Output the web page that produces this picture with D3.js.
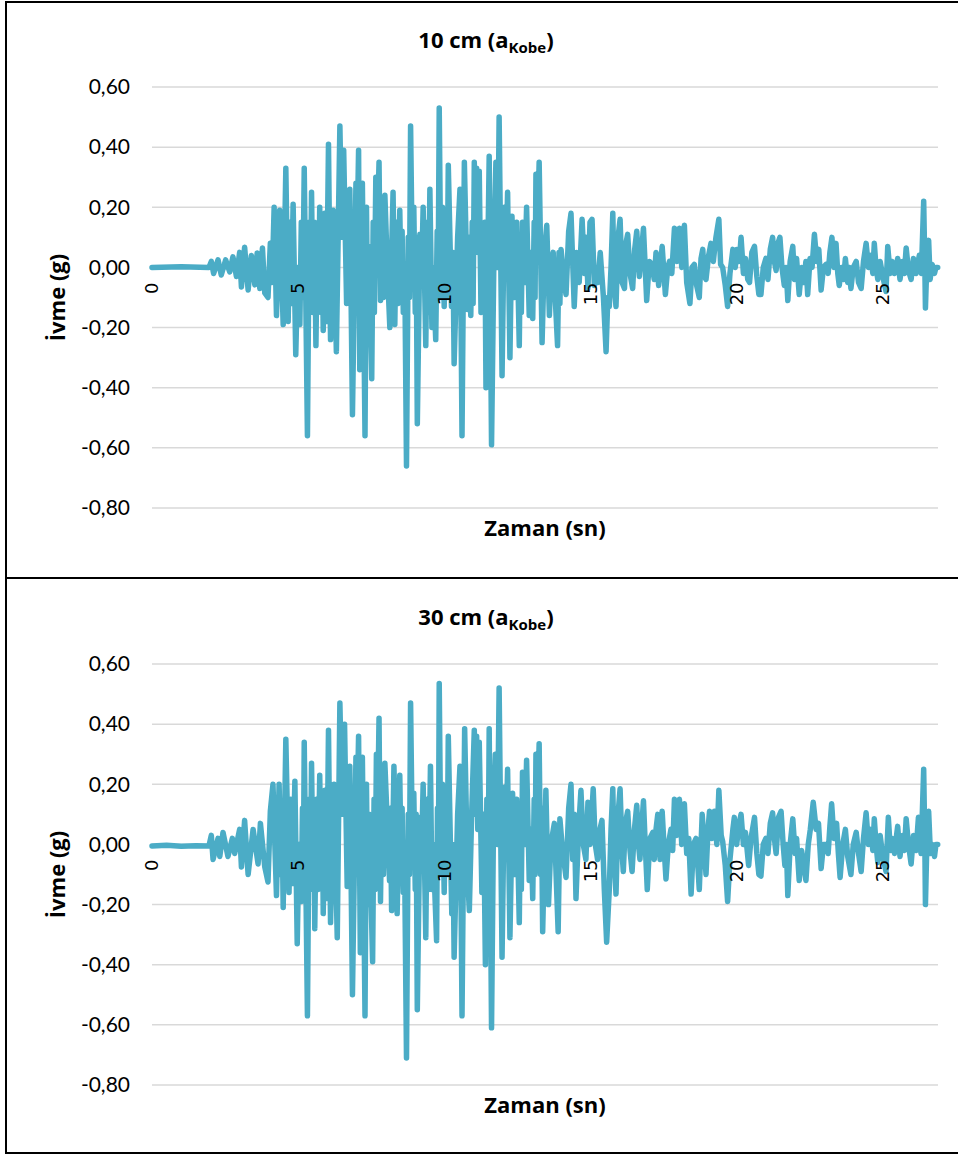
<!DOCTYPE html>
<html>
<head>
<meta charset="utf-8">
<script src="https://cdnjs.cloudflare.com/ajax/libs/d3/7.8.5/d3.min.js"></script>
<style>
    body { margin: 0; background: #fff; }
</style>
</head>
<body>
<div id="chart-area"></div>
<script>

// values (time in s, acceleration in g)
// rows of time and acc arrays line up one to one

var time10 = [
    0, 1, 1.95, 2.03, 2.11, 2.26, 2.37, 2.52, 2.66, 2.77,
    2.89, 3, 3.06, 3.17, 3.29, 3.4, 3.52, 3.6, 3.69, 3.78,
    3.86, 3.97, 4.05, 4.11, 4.18, 4.26, 4.37, 4.49, 4.58, 4.66,
    4.72, 4.77, 4.83, 4.92, 4.99, 5.06, 5.11, 5.16, 5.21, 5.32,
    5.38, 5.42, 5.46, 5.51, 5.56, 5.61, 5.66, 5.7, 5.74, 5.78,
    5.82, 5.86, 5.91, 5.97, 6.04, 6.11, 6.2, 6.31, 6.43, 6.5,
    6.56, 6.66, 6.77, 6.86, 6.98, 7.02, 7.07, 7.11, 7.2, 7.29,
    7.34, 7.38, 7.43, 7.52, 7.57, 7.61, 7.66, 7.72, 7.77, 7.82,
    7.87, 7.92, 7.97, 8.05, 8.14, 8.25, 8.31, 8.36, 8.42, 8.48,
    8.53, 8.56, 8.6, 8.65, 8.71, 8.77, 8.81, 8.85, 8.91, 8.96,
    9.01, 9.04, 9.08, 9.17, 9.22, 9.28, 9.37, 9.42, 9.46, 9.51,
    9.58, 9.62, 9.71, 9.76, 9.79, 9.83, 9.89, 9.94, 10, 10.05,
    10.1, 10.14, 10.25, 10.3, 10.34, 10.46, 10.54, 10.61, 10.69, 10.8,
    10.86, 10.91, 10.96, 10.99, 11.03, 11.07, 11.11, 11.15, 11.2, 11.26,
    11.31, 11.36, 11.39, 11.43, 11.54, 11.62, 11.71, 11.77, 11.83, 11.88,
    11.98, 12.06, 12.11, 12.17, 12.25, 12.32, 12.4, 12.48, 12.57, 12.61,
    12.64, 12.68, 12.75, 12.82, 12.91, 12.97, 13.03, 13.08, 13.11, 13.14,
    13.2, 13.25, 13.35, 13.43, 13.51, 13.6, 13.67, 13.73, 13.8, 13.88,
    13.93, 13.96, 14, 14.08, 14.17, 14.26, 14.34, 14.45, 14.53, 14.62,
    14.72, 14.8, 14.85, 14.92, 14.99, 15.06, 15.14, 15.2, 15.26, 15.34,
    15.45, 15.54, 15.6, 15.65, 15.71, 15.77, 15.82, 15.88, 15.95, 16.02,
    16.09, 16.17, 16.22, 16.28, 16.36, 16.45, 16.52, 16.59, 16.68, 16.75,
    16.82, 16.93, 17.02, 17.11, 17.19, 17.25, 17.34, 17.46, 17.57, 17.65,
    17.71, 17.79, 17.88, 17.96, 18.05, 18.13, 18.22, 18.3, 18.41, 18.48,
    18.56, 18.64, 18.73, 18.79, 18.85, 18.9, 18.96, 19.05, 19.13, 19.21,
    19.3, 19.4, 19.46, 19.53, 19.62, 19.7, 19.78, 19.88, 19.96, 20.02,
    20.1, 20.16, 20.24, 20.31, 20.39, 20.45, 20.53, 20.62, 20.7, 20.77,
    20.84, 20.92, 21.01, 21.08, 21.16, 21.24, 21.3, 21.36, 21.42, 21.49,
    21.56, 21.64, 21.7, 21.76, 21.84, 21.93, 21.99, 22.06, 22.15, 22.23,
    22.3, 22.38, 22.44, 22.52, 22.59, 22.67, 22.75, 22.82, 22.9, 22.98,
    23.07, 23.14, 23.2, 23.27, 23.34, 23.41, 23.47, 23.52, 23.6, 23.67,
    23.73, 23.81, 23.87, 23.92, 24, 24.1, 24.18, 24.27, 24.35, 24.44,
    24.52, 24.59, 24.67, 24.72, 24.78, 24.84, 24.92, 25.01, 25.12, 25.18,
    25.26, 25.33, 25.41, 25.47, 25.52, 25.6, 25.69, 25.75, 25.81, 25.89,
    25.98, 26.06, 26.15, 26.26, 26.33, 26.41, 26.45, 26.47, 26.53, 26.58,
    26.63, 26.7, 26.78, 26.83, 26.89
];
var acc10 = [
    0, 0.002, 0, 0.02, -0.02, 0.025, -0.025, 0.025, -0.015, 0.035,
    -0.03, 0.05, -0.065, 0.067, -0.075, 0.04, -0.058, 0.048, -0.07, 0.065,
    -0.085, -0.1, 0.08, -0.05, 0.2, -0.16, 0.19, -0.19, 0.33, -0.18,
    0.15, -0.12, 0.21, -0.29, 0, -0.19, 0.15, -0.1, 0.33, -0.56,
    0.15, -0.15, 0.25, -0.15, 0.15, -0.26, 0.12, -0.12, 0.2, -0.15,
    0.15, -0.21, 0.18, -0.18, 0.41, -0.24, 0.19, -0.28, 0.47, 0.1,
    0.39, -0.12, 0.26, -0.49, 0.28, 0.1, 0.39, -0.34, 0.28, -0.56,
    0.2, -0.2, 0.07, -0.37, 0.15, -0.15, 0.3, 0.15, 0.35, -0.11,
    0.18, -0.1, 0.24, 0.01, -0.2, 0.25, -0.19, 0.15, -0.12, 0.19,
    -0.1, 0.12, -0.15, 0, -0.66, 0.1, -0.1, 0.47, 0, 0.2,
    -0.15, 0.1, -0.52, 0.11, -0.05, 0.2, -0.26, 0.15, -0.15, 0.26,
    -0.2, 0, -0.24, 0.12, -0.1, 0.53, -0.1, 0.2, -0.13, 0.15,
    -0.1, 0.34, -0.13, 0.05, -0.32, 0.1, 0.26, -0.56, 0.35, -0.14,
    0.1, -0.16, 0.15, -0.12, 0.35, 0.1, 0.33, 0.05, 0.32, -0.15,
    0.13, -0.1, 0.15, -0.4, 0.37, -0.59, 0.1, 0.35, 0, 0.5,
    -0.36, 0.2, 0, 0.25, -0.3, 0.17, -0.1, 0.15, -0.26, 0.1,
    -0.15, 0.15, -0.05, 0.2, -0.16, 0.05, -0.17, 0.15, -0.1, 0.31,
    0.15, 0.35, -0.25, 0.05, 0.14, -0.16, 0.02, 0.05, -0.1, -0.26,
    0.05, -0.12, 0.06, -0.03, -0.09, 0.12, 0.18, -0.13, 0.05, -0.05,
    0.16, -0.02, 0.1, -0.07, 0.15, 0.16, -0.06, 0, -0.05, 0.05,
    -0.1, -0.28, -0.1, -0.13, 0, 0.18, -0.06, -0.13, 0.1, 0.16,
    -0.05, -0.07, 0.08, 0.11, -0.02, -0.07, 0.06, 0.12, -0.03, 0.05,
    0.13, -0.11, 0.02, 0.01, -0.04, 0.05, -0.06, 0.07, -0.09, 0,
    0.02, -0.02, 0.13, 0.02, 0.13, 0, 0.14, -0.05, -0.12, 0,
    0.01, -0.06, -0.1, 0.03, 0.06, -0.03, -0.04, 0.04, 0.08, 0.02,
    0.1, 0.16, 0.01, 0, -0.06, -0.13, -0.02, 0.06, 0, 0.06,
    0.02, 0.1, -0.02, 0.03, -0.04, -0.05, 0.05, 0.07, -0.03, -0.09,
    -0.09, 0, 0.03, -0.04, 0.06, 0.1, 0.02, -0.01, 0.08, 0.1,
    0, -0.06, 0, -0.11, 0.02, 0.07, -0.04, 0.03, -0.09, 0,
    -0.05, 0.02, -0.09, 0.03, 0, 0.11, 0.02, 0.06, -0.075, 0,
    0.01, -0.02, 0.05, 0.1, 0, 0.08, -0.02, -0.06, 0, -0.04,
    0.03, -0.05, 0, -0.07, 0, 0.02, -0.05, -0.07, 0.02, 0.08,
    0, 0.04, -0.02, 0.08, 0, -0.04, 0.02, -0.03, -0.08, 0.07,
    -0.02, 0.02, -0.02, 0, 0.03, -0.04, 0.02, -0.02, 0.065, -0.01,
    -0.04, 0.03, -0.02, 0.04, -0.02, 0.22, 0, -0.135, 0.05, 0.09,
    -0.04, 0.01, -0.02, 0, 0
];

var time30 = [
    0, 0.5, 1, 1.5, 1.95, 2.03, 2.09, 2.26, 2.32, 2.43,
    2.6, 2.75, 2.83, 3, 3.06, 3.17, 3.29, 3.46, 3.63, 3.71,
    3.86, 3.97, 4.05, 4.14, 4.26, 4.35, 4.41, 4.45, 4.49, 4.58,
    4.69, 4.75, 4.81, 4.89, 4.97, 5.03, 5.11, 5.15, 5.18, 5.21,
    5.32, 5.38, 5.42, 5.46, 5.51, 5.54, 5.57, 5.63, 5.68, 5.74,
    5.79, 5.83, 5.86, 5.92, 5.98, 6.04, 6.11, 6.23, 6.34, 6.43,
    6.51, 6.59, 6.68, 6.77, 6.86, 6.98, 7.02, 7.07, 7.13, 7.2,
    7.29, 7.34, 7.38, 7.43, 7.55, 7.6, 7.64, 7.68, 7.73, 7.77,
    7.82, 7.87, 7.92, 7.97, 8.08, 8.13, 8.16, 8.2, 8.28, 8.39,
    8.48, 8.53, 8.56, 8.6, 8.64, 8.71, 8.77, 8.81, 8.85, 8.91,
    8.96, 9.01, 9.04, 9.08, 9.17, 9.22, 9.28, 9.37, 9.42, 9.47,
    9.53, 9.58, 9.62, 9.74, 9.77, 9.8, 9.83, 9.89, 9.94, 10,
    10.05, 10.1, 10.14, 10.26, 10.3, 10.34, 10.46, 10.54, 10.61, 10.7,
    10.8, 10.86, 10.94, 11.03, 11.07, 11.11, 11.15, 11.2, 11.29, 11.35,
    11.41, 11.46, 11.5, 11.54, 11.62, 11.69, 11.75, 11.82, 11.88, 11.98,
    12.06, 12.11, 12.17, 12.25, 12.34, 12.41, 12.48, 12.57, 12.61, 12.64,
    12.68, 12.75, 12.82, 12.91, 12.97, 13.03, 13.08, 13.11, 13.14, 13.2,
    13.25, 13.3, 13.33, 13.37, 13.48, 13.57, 13.65, 13.77, 13.83, 13.9,
    13.96, 14.05, 14.17, 14.26, 14.34, 14.4, 14.45, 14.51, 14.6, 14.68,
    14.76, 14.85, 14.92, 14.99, 15.1, 15.17, 15.25, 15.33, 15.4, 15.48,
    15.56, 15.65, 15.71, 15.77, 15.82, 15.88, 15.95, 16.02, 16.09, 16.13,
    16.2, 16.28, 16.36, 16.43, 16.51, 16.59, 16.66, 16.7, 16.76, 16.82,
    16.88, 16.95, 17.04, 17.14, 17.19, 17.25, 17.31, 17.39, 17.46, 17.52,
    17.59, 17.67, 17.76, 17.82, 17.88, 17.96, 18.05, 18.13, 18.22, 18.3,
    18.37, 18.45, 18.53, 18.62, 18.68, 18.73, 18.83, 18.91, 18.96, 19.03,
    19.08, 19.16, 19.25, 19.33, 19.4, 19.48, 19.53, 19.62, 19.7, 19.78,
    19.88, 19.93, 20.01, 20.08, 20.16, 20.24, 20.31, 20.42, 20.5, 20.62,
    20.7, 20.77, 20.84, 20.92, 21.01, 21.08, 21.16, 21.24, 21.3, 21.36,
    21.44, 21.53, 21.6, 21.66, 21.71, 21.76, 21.84, 21.93, 22.01, 22.06,
    22.15, 22.23, 22.3, 22.38, 22.46, 22.53, 22.63, 22.73, 22.81, 22.9,
    22.98, 23.07, 23.14, 23.2, 23.26, 23.34, 23.43, 23.49, 23.55, 23.64,
    23.73, 23.81, 23.92, 24, 24.1, 24.18, 24.27, 24.35, 24.44, 24.52,
    24.59, 24.67, 24.72, 24.78, 24.84, 24.92, 25.01, 25.12, 25.2, 25.27,
    25.33, 25.41, 25.47, 25.52, 25.6, 25.69, 25.75, 25.81, 25.89, 25.98,
    26.06, 26.15, 26.23, 26.32, 26.41, 26.45, 26.47, 26.53, 26.58, 26.64,
    26.7, 26.78, 26.83, 26.89
];
var acc30 = [
    -0.005, -0.003, -0.006, -0.004, -0.005, 0.03, -0.05, 0.02, -0.04, 0.04,
    -0.04, 0.02, -0.03, 0.05, -0.075, 0.08, -0.1, 0.05, -0.065, 0.07,
    -0.075, -0.125, 0.11, 0.2, -0.17, 0.2, -0.1, 0.1, -0.21, 0.35,
    -0.16, 0.15, -0.13, 0.21, -0.33, 0, -0.19, 0.12, -0.1, 0.34,
    -0.57, 0.15, -0.15, 0.27, -0.12, 0.12, -0.28, 0.15, -0.15, 0.23,
    -0.12, 0.15, -0.23, 0.18, -0.18, 0.38, -0.26, 0.2, -0.31, 0.47,
    0.1, 0.4, -0.14, 0.26, -0.5, 0.29, 0.1, 0.36, -0.36, 0.29,
    -0.57, 0.2, -0.2, 0.1, -0.39, 0.15, -0.15, 0.3, 0.15, 0.42,
    -0.19, 0.18, -0.1, 0.27, 0, -0.12, 0.12, -0.22, 0.26, -0.23,
    0.23, -0.1, 0.12, -0.16, 0, -0.71, 0.1, -0.1, 0.47, 0,
    0.17, -0.15, 0.1, -0.55, 0.09, -0.05, 0.2, -0.31, 0.15, -0.15,
    0.26, -0.15, 0, -0.32, 0.12, -0.1, 0.535, -0.1, 0.2, -0.16,
    0.15, -0.1, 0.36, -0.23, 0, -0.375, 0.1, 0.26, -0.57, 0.385,
    -0.1, -0.22, 0.1, 0.38, 0.1, 0.36, 0.05, 0.34, -0.16, 0.1,
    -0.4, 0.15, -0.15, 0.385, -0.61, 0.1, 0.3, 0, 0.52, -0.375,
    0.19, 0, 0.25, -0.31, 0.17, -0.1, 0.15, -0.26, 0.1, -0.15,
    0.24, 0, 0.28, -0.12, 0.05, -0.18, 0.15, -0.1, 0.3, 0.15,
    0.335, -0.1, 0.12, -0.29, 0.18, -0.2, 0, 0.07, -0.1, -0.29,
    0.085, -0.02, -0.11, 0.12, 0.2, -0.05, 0.1, -0.18, 0.05, 0.18,
    0, -0.05, 0.14, 0, 0.185, 0, -0.05, 0.05, 0.08, -0.15,
    -0.325, -0.15, 0.05, 0.185, -0.05, -0.165, 0.1, 0.185, -0.03, -0.09,
    0.07, 0.11, -0.02, -0.09, 0.05, 0.13, -0.01, -0.05, 0.06, 0.145,
    0, -0.15, 0.02, 0.04, -0.05, 0.05, 0.1, -0.05, 0.11, 0,
    -0.115, 0, 0.05, -0.02, 0.15, 0.03, 0.15, 0, 0.135, -0.03,
    0.02, -0.165, 0, 0.02, -0.07, -0.15, 0.1, -0.02, -0.1, 0.05,
    0.11, 0.02, 0.11, 0, 0.18, 0.03, 0.01, -0.07, -0.19, -0.05,
    0.05, 0.09, 0, 0.06, 0.1, 0, 0.04, -0.07, 0.02, 0.09,
    -0.03, -0.1, -0.105, 0, 0.02, -0.03, 0.07, 0.105, 0.02, -0.03,
    0.09, 0.11, 0, -0.07, 0, -0.17, 0, 0.085, -0.03, 0.02,
    -0.12, -0.02, -0.06, -0.12, 0, 0.05, 0.14, 0.05, 0.07, -0.08,
    0, 0, -0.03, 0.06, 0.135, 0.02, 0.07, -0.03, -0.11, 0,
    0.05, -0.04, -0.1, 0, 0.04, -0.03, -0.09, 0.02, 0.105, 0,
    0.05, -0.02, 0.085, 0, -0.06, 0.03, -0.04, -0.09, 0.09, -0.02,
    0.02, -0.03, 0.02, 0.06, -0.04, 0.03, -0.02, 0.085, 0, -0.065,
    0.03, -0.02, 0.09, -0.03, 0.25, 0, -0.2, 0.05, 0.11, -0.03,
    0, -0.04, 0, 0
];

var yTicks = [0.6, 0.4, 0.2, 0, -0.2, -0.4, -0.6, -0.8];
var xTicks = [0, 5, 10, 15, 20, 25];

// SVG drawing area

var width = 958, height = 1156;
var panelH = 577;
var plot = {left: 152, right: 938, top: 87, bottom: 508};

var svg = d3.select("#chart-area").append("svg")
    .attr("width", width)
    .attr("height", height);

var x = d3.scaleLinear()
    .domain([0, 26.9])
    .range([plot.left, plot.right]);

var y = d3.scaleLinear()
    .domain([-0.8, 0.6])
    .range([plot.bottom, plot.top]);

function fmt(v) {
    return (v < -0.0001 ? "-" : "") + Math.abs(v).toFixed(2).replace(".", ",");
}

var boldFont = "'Open Sans', Lato, sans-serif";

function drawPanel(top, h, label, times, values) {
    var g = svg.append("g")
        .attr("transform", "translate(0," + top + ")");

    // frame
    g.append("rect")
        .attr("x", 6)
        .attr("y", top === 0 ? 2 : 1)
        .attr("width", 960)
        .attr("height", h)
        .attr("fill", "none")
        .attr("stroke", "#000")
        .attr("stroke-width", 2);

    // gridlines
    g.selectAll(".grid")
        .data(yTicks)
        .enter().append("line")
        .attr("class", "grid")
        .attr("x1", plot.left)
        .attr("x2", plot.right)
        .attr("y1", function (d) { return y(d); })
        .attr("y2", function (d) { return y(d); })
        .attr("stroke", "#d9d9d9")
        .attr("stroke-width", 1.5);

    // y labels
    g.selectAll(".ylab")
        .data(yTicks)
        .enter().append("text")
        .attr("class", "ylab")
        .attr("x", 130)
        .attr("y", function (d) { return y(d); })
        .attr("dy", "0.35em")
        .attr("text-anchor", "end")
        .style("font-family", "Lato, 'Open Sans', sans-serif")
        .style("font-size", "21px")
        .attr("fill", "#000")
        .text(fmt);

    // the record
    var data = d3.zip(times, values);
    var line = d3.line()
        .x(function (d) { return x(d[0]); })
        .y(function (d) { return y(d[1]); });

    g.append("path")
        .datum(data)
        .attr("d", line)
        .attr("fill", "none")
        .attr("stroke", "#4bacc6")
        .attr("stroke-width", 5.5)
        .attr("stroke-linejoin", "round")
        .attr("stroke-linecap", "round");

    // x labels, rotated, hanging under the zero line
    g.selectAll(".xlab")
        .data(xTicks)
        .enter().append("text")
        .attr("class", "xlab")
        .attr("transform", function (d) {
            return "translate(" + x(d) + "," + (y(0) + 15) + ") rotate(-90)";
        })
        .attr("dy", "0.35em")
        .attr("text-anchor", "end")
        .style("font-family", "'DejaVu Sans', sans-serif")
        .style("font-size", "18px")
        .attr("fill", "#000")
        .text(function (d) { return d; });

    // chart title with subscript
    var t = g.append("text")
        .attr("x", 486)
        .attr("y", 48)
        .attr("text-anchor", "middle")
        .style("font-family", boldFont)
        .style("font-weight", "bold")
        .style("font-size", "22px");
    t.append("tspan").text(label + " (a");
    t.append("tspan").attr("dy", 5).style("font-size", "15px").text("Kobe");
    t.append("tspan").attr("dy", -5).text(")");

    // axis titles
    g.append("text")
        .attr("x", (plot.left + plot.right) / 2)
        .attr("y", 536)
        .attr("text-anchor", "middle")
        .style("font-family", boldFont)
        .style("font-weight", "bold")
        .style("font-size", "22px")
        .text("Zaman (sn)");

    g.append("text")
        .attr("transform", "translate(65," + ((plot.top + plot.bottom) / 2) + ") rotate(-90)")
        .attr("text-anchor", "middle")
        .style("font-family", boldFont)
        .style("font-weight", "bold")
        .style("font-size", "22px")
        .text("İvme (g)");
}

drawPanel(0, 576, "10 cm", time10, acc10);
drawPanel(panelH, 575, "30 cm", time30, acc30);

</script>
</body>
</html>
